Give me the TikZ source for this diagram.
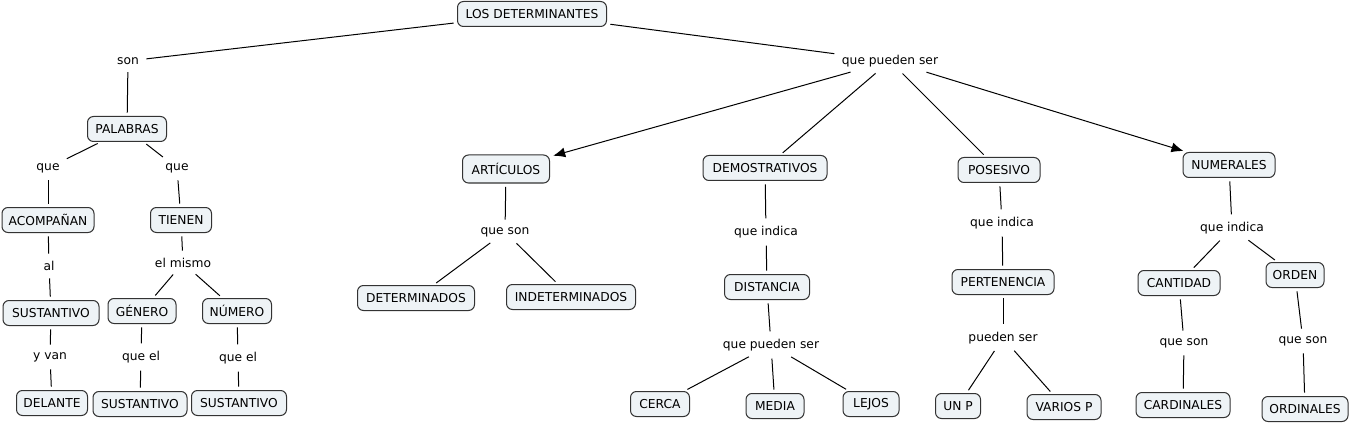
\documentclass[tikz,border=0pt]{standalone}
\usepackage{fontspec}
\setmainfont{DejaVu Sans}
\usetikzlibrary{arrows.meta}
\definecolor{boxfill}{HTML}{EEF3F6}
\definecolor{boxdraw}{HTML}{333333}
\tikzset{
  concept/.style={draw=boxdraw, fill=boxfill, rounded corners=4.5pt, line width=0.75pt,
    minimum height=18.75pt, inner xsep=4pt, inner ysep=2pt, font=\fontsize{9.2pt}{11pt}\selectfont, text=black},
  bw/.style={minimum width=#1*0.75pt},
  lbl/.style={inner sep=3pt, font=\fontsize{9.2pt}{11pt}\selectfont, text=black},
  link/.style={draw=black, line width=0.75pt, shorten <=2.5pt, shorten >=2.5pt},
  arr/.style={link, -{Latex[length=9pt,width=7.5pt]}},
}
\begin{document}
\begin{tikzpicture}[x=0.75pt,y=-0.75pt]
\useasboundingbox (0,0) rectangle (1352,424);
% top
\node[concept,bw=149] (top) at (532,14) {LOS DETERMINANTES};
\node[lbl] (son) at (128,61) {son};
\node[lbl] (qps) at (890,61) {que pueden ser};
% left branch
\node[concept,bw=79] (palabras) at (127,129) {PALABRAS};
\node[lbl] (que1) at (48,168) {que};
\node[lbl] (que2) at (177,168) {que};
\node[concept,bw=92] (acomp) at (48,220) {ACOMPAÑAN};
\node[concept,bw=61] (tienen) at (181,220) {TIENEN};
\node[lbl] (al) at (49,266) {al};
\node[lbl] (elmismo) at (183,263) {el mismo};
\node[concept,bw=96] (sust1) at (51,313) {SUSTANTIVO};
\node[concept,bw=68] (genero) at (142,311) {GÉNERO};
\node[concept,bw=69] (numero) at (237,311) {NÚMERO};
\node[lbl] (yvan) at (50,357) {y van};
\node[lbl] (queel1) at (141,357) {que el};
\node[lbl] (queel2) at (238,358) {que el};
\node[concept,bw=71] (delante) at (52,403) {DELANTE};
\node[concept,bw=94] (sust2) at (140,404) {SUSTANTIVO};
\node[concept,bw=95] (sust3) at (239,403) {SUSTANTIVO};
% articulos
\node[concept,bw=87,minimum height=21pt] (art) at (506,169) {ARTÍCULOS};
\node[lbl] (queson1) at (505,232) {que son};
\node[concept,bw=117] (det) at (416,298) {DETERMINADOS};
\node[concept,bw=129] (indet) at (571,297) {INDETERMINADOS};
% demostrativos
\node[concept,bw=124] (demos) at (765,168) {DEMOSTRATIVOS};
\node[lbl] (qi1) at (766,232) {que indica};
\node[concept,bw=85] (dist) at (767,287) {DISTANCIA};
\node[lbl] (qps2) at (771,345) {que pueden ser};
\node[concept,bw=59] (cerca) at (660,404) {CERCA};
\node[concept,bw=58] (media) at (775,406) {MEDIA};
\node[concept,bw=56] (lejos) at (871,404) {LEJOS};
% posesivo
\node[concept,bw=82] (pos) at (999,170) {POSESIVO};
\node[lbl] (qi2) at (1002,223) {que indica};
\node[concept,bw=102] (pert) at (1003,282) {PERTENENCIA};
\node[lbl] (ps) at (1003,338) {pueden ser};
\node[concept,bw=45] (unp) at (958,406) {UN P};
\node[concept,bw=74] (varios) at (1064,407) {VARIOS P};
% numerales
\node[concept,bw=92] (num) at (1229,165) {NUMERALES};
\node[lbl] (qi3) at (1232,228) {que indica};
\node[concept,bw=82] (cant) at (1179,283) {CANTIDAD};
\node[concept,bw=58] (orden) at (1295,275) {ORDEN};
\node[lbl] (queson2) at (1184,343) {que son};
\node[lbl] (queson3) at (1303,341) {que son};
\node[concept,bw=94] (card) at (1183,405) {CARDINALES};
\node[concept,bw=86] (ord) at (1305,409) {ORDINALES};
% connectors
\path[link] (top) -- (son);
\path[link] (son) -- (palabras);
\path[link] (palabras) -- (que1);
\path[link] (que1) -- (acomp);
\path[link] (palabras) -- (que2);
\path[link] (que2) -- (tienen);
\path[link] (acomp) -- (al);
\path[link] (al) -- (sust1);
\path[link] (sust1) -- (yvan);
\path[link] (yvan) -- (delante);
\path[link] (tienen) -- (elmismo);
\path[link] (elmismo) -- (genero);
\path[link] (elmismo) -- (numero);
\path[link] (genero) -- (queel1);
\path[link] (queel1) -- (sust2);
\path[link] (numero) -- (queel2);
\path[link] (queel2) -- (sust3);
\path[link] (top) -- (qps);
\path[arr] (qps) -- (art);
\path[link] (qps) -- (demos);
\path[link] (qps) -- (pos);
\path[arr] (qps) -- (num);
\path[link] (art) -- (queson1);
\path[link] (queson1) -- (det);
\path[link] (queson1) -- (indet);
\path[link] (demos) -- (qi1);
\path[link] (qi1) -- (dist);
\path[link] (dist) -- (qps2);
\path[link] (qps2) -- (cerca);
\path[link] (qps2) -- (media);
\path[link] (qps2) -- (lejos);
\path[link] (pos) -- (qi2);
\path[link] (qi2) -- (pert);
\path[link] (pert) -- (ps);
\path[link] (ps) -- (unp);
\path[link] (ps) -- (varios);
\path[link] (num) -- (qi3);
\path[link] (qi3) -- (cant);
\path[link] (qi3) -- (orden);
\path[link] (cant) -- (queson2);
\path[link] (queson2) -- (card);
\path[link] (orden) -- (queson3);
\path[link] (queson3) -- (ord);
\end{tikzpicture}
\end{document}
